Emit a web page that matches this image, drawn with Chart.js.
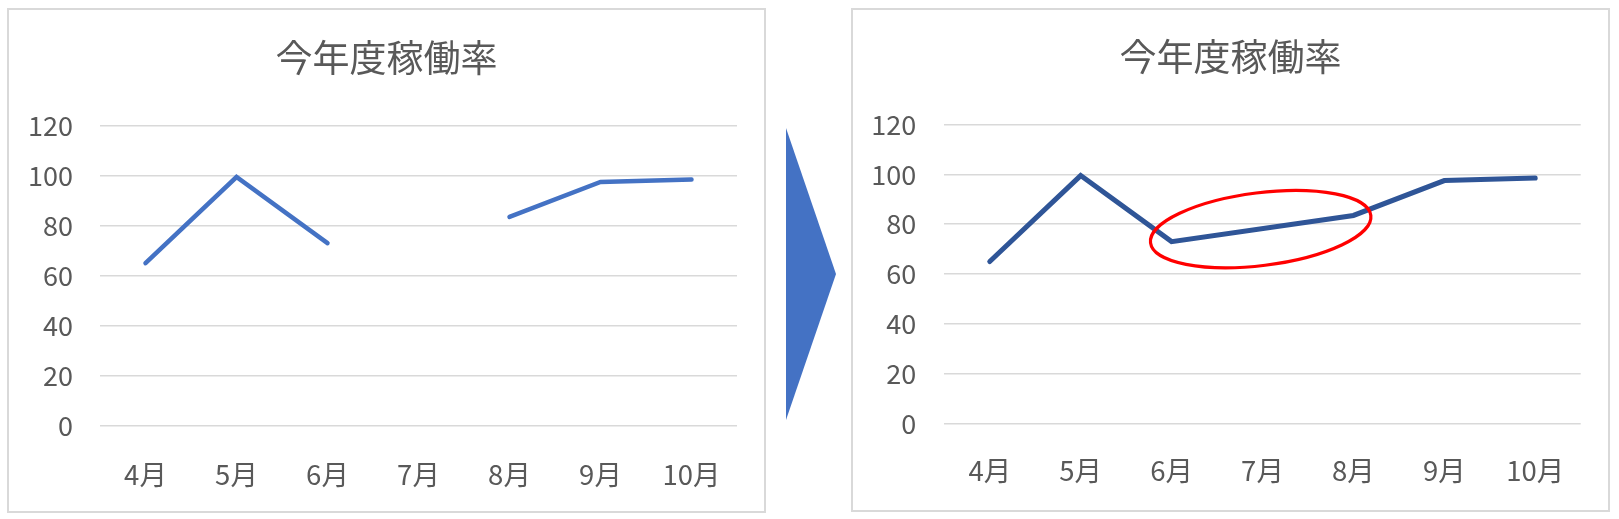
<!DOCTYPE html>
<html>
<head>
<meta charset="utf-8">
<script src="https://cdn.jsdelivr.net/npm/chart.js@4.4.0/dist/chart.umd.min.js"></script>
<style>
html,body{margin:0;padding:0;background:#fff;width:1619px;height:519px;overflow:hidden}
canvas{position:absolute}
.box{position:absolute;box-sizing:border-box;border:2px solid #D9D9D9;pointer-events:none}
svg{position:absolute}
</style>
</head>
<body>
<canvas id="before" width="759" height="505" style="left:7px;top:8px"></canvas>
<div class="box" style="left:7px;top:8px;width:759px;height:505px"></div>
<svg style="left:780px;top:120px" width="64" height="310"><polygon points="6,8 6,300 56,154" fill="#4472C4"/></svg>
<canvas id="after" width="759" height="504" style="left:851px;top:8px"></canvas>
<div class="box" style="left:851px;top:8px;width:759px;height:504px"></div>
<script>
// ---- data ----
const chartTitle = '今年度稼働率';
const months = ['4月', '5月', '6月', '7月', '8月', '9月', '10月'];
const utilization = [65, 99.5, 73, null, 83.5, 97.5, 98.5];
const yTicks = [0, 20, 40, 60, 80, 100, 120];

const FONT = "'Noto Sans CJK JP', 'Noto Sans', sans-serif";
const TEXT = '#595959';

const highlightPlugin = {
  id: 'highlight',
  afterDatasetsDraw(chart, args, opts) {
    if (!opts || !opts.enabled) return;
    const xs = chart.scales.x, ys = chart.scales.y;
    const cx = xs.getPixelForValue(opts.xIndex);
    const cy = ys.getPixelForValue(opts.yValue);
    const ctx = chart.ctx;
    ctx.save();
    ctx.beginPath();
    ctx.ellipse(cx, cy, opts.rx, opts.ry, opts.rotation, 0, Math.PI * 2);
    ctx.strokeStyle = opts.color;
    ctx.lineWidth = opts.width;
    ctx.stroke();
    ctx.restore();
  }
};

function build(id, g) {
  return new Chart(document.getElementById(id), {
    type: 'line',
    data: {
      labels: months,
      datasets: [{
        data: utilization,
        borderColor: g.color,
        borderWidth: g.lineWidth,
        pointRadius: 0,
        pointHoverRadius: 0,
        tension: 0,
        spanGaps: g.spanGaps,
        borderCapStyle: 'round',
        borderJoinStyle: 'miter',
        fill: false
      }]
    },
    options: {
      responsive: false,
      animation: false,
      devicePixelRatio: 1,
      layout: { padding: 0 },
      plugins: {
        legend: { display: false },
        tooltip: { enabled: false },
        title: {
          display: true,
          text: chartTitle,
          color: TEXT,
          font: { family: FONT, size: 37, weight: 'normal', lineHeight: 1.2 },
          padding: { top: g.titleTop, bottom: g.titleBottom }
        },
        highlight: g.highlight || { enabled: false }
      },
      scales: {
        x: {
          offset: true,
          grid: { display: false, drawTicks: false },
          border: { display: false },
          ticks: {
            color: TEXT, font: { family: FONT, size: 27.5, lineHeight: 1.2 },
            padding: g.xPad, maxRotation: 0, autoSkip: false
          },
          afterFit(s) { s.height = g.xHeight; }
        },
        y: {
          min: yTicks[0],
          max: yTicks[yTicks.length - 1],
          grid: { color: '#D9D9D9', lineWidth: 1.5, drawTicks: false },
          border: { display: false },
          ticks: {
            stepSize: yTicks[1] - yTicks[0],
            color: TEXT, font: { family: FONT, size: 27, lineHeight: 1.2 },
            padding: g.yPad
          },
          afterFit(s) { s.width = g.yWidth; }
        },
        spacer: {
          type: 'linear',
          position: 'right',
          min: 0, max: 1,
          grid: { display: false, drawTicks: false },
          border: { display: false },
          ticks: { display: false },
          afterFit(s) { s.width = g.padRight; }
        }
      }
    },
    plugins: [highlightPlugin]
  });
}

build('before', {
  color: '#4472C4', lineWidth: 4.5, spanGaps: false,
  padRight: 29, titleTop: 27.8, titleBottom: 45.6, xHeight: 87.5, xPad: 33, yWidth: 93, yPad: 27
});

build('after', {
  color: '#2F5597', lineWidth: 5, spanGaps: true,
  padRight: 29.3, titleTop: 26.8, titleBottom: 45.3, xHeight: 88.5, xPad: 30.5, yWidth: 93.3, yPad: 28,
  highlight: { enabled: true, xIndex: 2.98, yValue: 78, rx: 111, ry: 36.4, rotation: -7.1 * Math.PI / 180, color: '#FF0000', width: 3.2 }
});
</script>
</body>
</html>
